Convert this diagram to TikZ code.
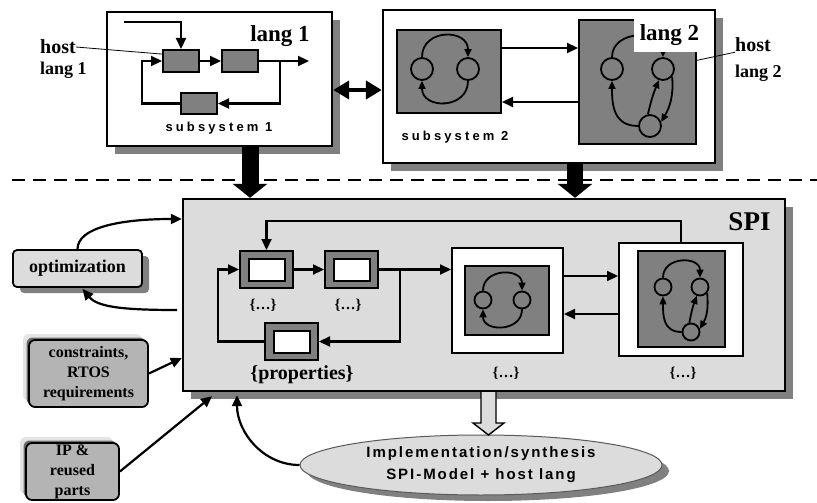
\documentclass[tikz,border=0pt]{standalone}
\usepackage{fontspec}
\setmainfont{Liberation Serif}
\newfontfamily\spacedsans[LetterSpace=24]{Liberation Sans}
\newfontfamily\implsans[LetterSpace=13]{Liberation Sans}
\usetikzlibrary{arrows.meta,calc,shapes.geometric,shadows}
\definecolor{gmid}{HTML}{808080}
\definecolor{glight}{HTML}{DCDCDC}
\definecolor{gbox}{HTML}{B4B4B4}
\definecolor{shad}{HTML}{808080}
\definecolor{lshad}{HTML}{E4E4E4}
\definecolor{dshad}{HTML}{6E6E6E}
\definecolor{gdark}{HTML}{5A5A5A}
\newcommand\bsz[2]{\bfseries\fontsize{#1}{#2}\selectfont}
\tikzset{
  conn/.style={line width=2.2pt,-{Triangle[length=11pt,width=10pt]}},
  cyc/.style={line width=1.8pt,-{Triangle[length=8pt,width=7pt]}},
  sysbox/.style={draw,line width=2.4pt,fill=white,inner sep=0pt,
    drop shadow={shadow xshift=8pt,shadow yshift=-8pt,fill=shad,opacity=1}},
  greybox/.style={draw,line width=2pt,fill=gmid,inner sep=0pt},
  whitebox/.style={draw,line width=2pt,fill=white,inner sep=0pt},
  st/.style={circle,draw,line width=1.8pt,fill=gmid,inner sep=0pt,minimum size=#1},
  txt/.style={inner sep=0pt},
  tlshadow/.style={
    drop shadow={shadow xshift=-6pt,shadow yshift=6pt,fill=lshad,opacity=1},
    drop shadow={shadow xshift=-2.5pt,shadow yshift=2.5pt,fill=dshad,opacity=1}},
  inbox/.style={draw,rounded corners=6pt,line width=1.8pt,fill=gbox,inner sep=0pt,
    align=center,font=\bsz{16}{20},tlshadow}
}
\begin{document}
\begin{tikzpicture}[x=1pt,y=-1pt]
\fill[white] (0,0) rectangle (817,503);
\useasboundingbox (0,0) rectangle (817,503);

% separator
\draw[line width=2.5pt,dash pattern=on 13pt off 8pt] (12,180) -- (817,180);

% ---------- subsystem 1 ----------
\node[sysbox,minimum width=225pt,minimum height=134pt] (sub1) at (219.5,79) {};
\node[greybox,minimum width=36pt,minimum height=22pt] (s1a) at (181,61) {};
\node[greybox,minimum width=36pt,minimum height=22pt] (s1b) at (240,61) {};
\node[greybox,minimum width=36pt,minimum height=21pt] (s1c) at (199,103.5) {};
\coordinate (s1in) at (124,22);
\coordinate (s1out) at (309,61);
\coordinate (s1br) at (280,61);
\draw[conn] (s1in) -| (s1a.north);
\draw[conn] (s1a.east) -- (s1b.west);
\draw[conn] (s1b.east) -- (s1out);
\draw[conn] (s1br) |- (s1c.east);
\draw[conn] (s1c.west) -- (s1c.west -| 142,0) |- (s1a.west);
\node[txt,font=\bsz{23}{23}] (lang1) at (280,36) {lang 1};
\node[txt,font=\spacedsans\bsz{13}{13}] (sub1lab) at (219,128) {subsystem 1};
\node[txt,anchor=west,font=\bsz{20}{20}] (host1) at (40,47) {host};
\node[txt,anchor=west,font=\bsz{18}{18}] (host1b) at (40,70) {lang 1};
\draw[line width=0.8pt] (host1.east) -- (s1a.160);

% ---------- subsystem 2 ----------
\node[sysbox,minimum width=332pt,minimum height=153pt] (sub2) at (549,86.5) {};
\node[greybox,minimum width=104pt,minimum height=83pt] (l2) at (449,71.5) {};
\node[st=22pt] (c21) at (422,69) {};
\node[st=22pt] (c22) at (468,69) {};
\draw[cyc] (c21.north) to[out=90,in=90,looseness=1.6] (c22.north);
\draw[cyc] (c22.south) to[out=-90,in=-90,looseness=1.6] (c21.south);
\node[greybox,minimum width=117pt,minimum height=124pt] (r2) at (637.5,82) {};
\node[st=22pt] (c23) at (612,69) {};
\node[st=22pt] (c24) at (663,69) {};
\node[st=22pt] (c25) at (650,126) {};
\draw[cyc] (c23.north) to[out=90,in=90,looseness=1.4] (c24.north);
\draw[cyc] (c25.west) to[out=180,in=-90,looseness=1.2] (c23.south);
\draw[cyc] (c25.100) to[bend left=5] (c24.250);
\draw[cyc] (c24.-40) to[out=-85,in=60] (c25.20);
\node[fill=white,inner sep=0pt,minimum width=71pt,minimum height=34pt,font=\bsz{23}{23}] (lang2) at (669.5,35) {lang 2};
\draw[conn] (l2.east |- 0,48) -- (r2.west |- 0,48);
\draw[conn] (r2.west |- 0,102) -- (l2.east |- 0,102);
\node[txt,font=\spacedsans\bsz{13}{13}] (sub2lab) at (455,137) {subsystem 2};
\node[txt,anchor=west,font=\bsz{20}{20}] (host2) at (735,45) {host};
\node[txt,anchor=west,font=\bsz{18}{18}] (host2b) at (735,73) {lang 2};
\draw[line width=0.8pt] (host2.south west) -- (r2.20);

% link between subsystems
\draw[line width=4.5pt,{Triangle[length=16pt,width=18pt]}-{Triangle[length=16pt,width=18pt]}]
  (sub1.east |- 0,90) -- (sub2.west |- 0,90);

% ---------- SPI ----------
\node[draw,line width=2.4pt,fill=glight,inner sep=0pt,minimum width=602pt,minimum height=192pt,
  drop shadow={shadow xshift=8pt,shadow yshift=-8pt,fill=shad,opacity=1}] (spi) at (484,295) {};
\node[txt,font=\bsz{27}{27}] (spilab) at (749.5,222) {SPI};

\draw[line width=17pt,-{Triangle[length=14pt,width=34pt]}] (sub1.south -| 250,0) -- (spi.north -| 250,0);
\draw[line width=16pt,-{Triangle[length=14pt,width=34pt]}] (sub2.south -| 575,0) -- (spi.north -| 575,0);

\node[greybox,minimum width=53pt,minimum height=37pt] (b1) at (266.5,269.5) {};
\node[whitebox,minimum width=36pt,minimum height=22pt] (b1i) at (b1) {};
\node[greybox,minimum width=53pt,minimum height=37pt] (b2) at (351.5,269.5) {};
\node[whitebox,minimum width=36pt,minimum height=22pt] (b2i) at (b2) {};
\node[greybox,minimum width=53pt,minimum height=37pt] (b3) at (291.5,341.5) {};
\node[whitebox,minimum width=36pt,minimum height=22pt] (b3i) at (b3) {};
\node[txt,font=\bsz{15}{15}] (b1lab) at (263,305) {\{…\}};
\node[txt,font=\bsz{15}{15}] (b2lab) at (348,305) {\{…\}};
\node[txt,font=\bsz{20}{20}] (proplab) at (302,375) {\{properties\}};

\node[whitebox,minimum width=111pt,minimum height=105pt] (b4) at (507.5,300.5) {};
\node[greybox,minimum width=84pt,minimum height=69pt] (b4i) at (507,300.5) {};
\node[st=17pt] (c41) at (483,300) {};
\node[st=17pt] (c42) at (522,300) {};
\draw[cyc] (c41.north) to[out=90,in=90,looseness=1.5] (c42.north);
\draw[cyc] (c42.south) to[out=-90,in=-90,looseness=1.5] (c41.south);

\node[whitebox,minimum width=124pt,minimum height=113pt] (b5) at (681,299.5) {};
\node[greybox,minimum width=87pt,minimum height=96pt] (b5i) at (681.5,299) {};
\node[st=17pt] (c51) at (663,287) {};
\node[st=17pt] (c52) at (700,287) {};
\node[st=17pt] (c53) at (691,332) {};
\draw[cyc] (c51.north) to[out=90,in=90,looseness=1.5] (c52.north);
\draw[cyc] (c53.west) to[out=180,in=-90,looseness=1.2] (c51.south);
\draw[cyc] (c53.100) to[bend left=5] (c52.250);
\draw[cyc] (c52.-40) to[out=-85,in=60] (c53.20);
\node[txt,font=\bsz{15}{15}] (b4lab) at (506,373) {\{…\}};
\node[txt,font=\bsz{15}{15}] (b5lab) at (683,373) {\{…\}};

\coordinate (br2) at (400,269.5);
\draw[conn] (b1.east) -- (b2.west);
\draw[conn] (b2.east) -- (b4.west |- b2.east);
\draw[conn] (br2) |- (b3.east);
\draw[conn] (b3.west) -- (b3.west -| 218,0) |- (b1.west);
\draw[conn] (b5.north) -- (b5.north |- 0,221) -| (b1.north);
\draw[conn] (b4.east |- 0,276) -- (b5.west |- 0,276);
\draw[conn] (b5.west |- 0,314) -- (b4.east |- 0,314);

% ---------- left inputs ----------
\node[draw,rounded corners=4pt,line width=1.8pt,fill=glight,inner sep=0pt,
  minimum width=129pt,minimum height=37pt,font=\bsz{18}{18},
  drop shadow={shadow xshift=7pt,shadow yshift=-6pt,fill=shad,opacity=1}] (opt) at (77.5,268.5) {optimization};
\coordinate (optback) at (177,310);
\draw[conn] (opt.north) .. controls +(0,-22) and +(-60,0) .. (spi.west |- 0,219);
\draw[conn] (optback) .. controls +(-55,0) and +(15,18) .. ($(opt.south)+(5,1)$);

\node[inbox,minimum width=119pt,minimum height=67pt] (cons) at (88.5,373.5) {constraints,\\RTOS\\requirements};
\draw[conn] (cons.east) -- (spi.west |- 0,358);

\node[inbox,minimum width=93pt,minimum height=57pt] (ip) at (72.5,471.5) {IP \&\\reused\\parts};
\draw[conn] (ip.east) -- ($(spi.south -| 212,0)+(0,4)$);

% ---------- implementation ----------
\node[ellipse,draw=gdark,line width=1pt,fill=glight,inner sep=0pt,minimum width=362pt,minimum height=60pt,
  drop shadow={shadow xshift=7pt,shadow yshift=-6pt,fill=shad,opacity=1},
  align=center,font=\implsans\bsz{15}{22}] (impl) at (481,465) {Implementation/synthesis\\SPI-Model + host lang};
\draw[conn] (impl.west) to[out=180,in=-90] ($(spi.south -| 237,0)+(0,3)$);

\draw[line width=1.4pt,fill=glight] (481,392) -- (481,423) -- (473,423) -- (488.5,435) -- (504,423) -- (496,423) -- (496,392);
\end{tikzpicture}
\end{document}
